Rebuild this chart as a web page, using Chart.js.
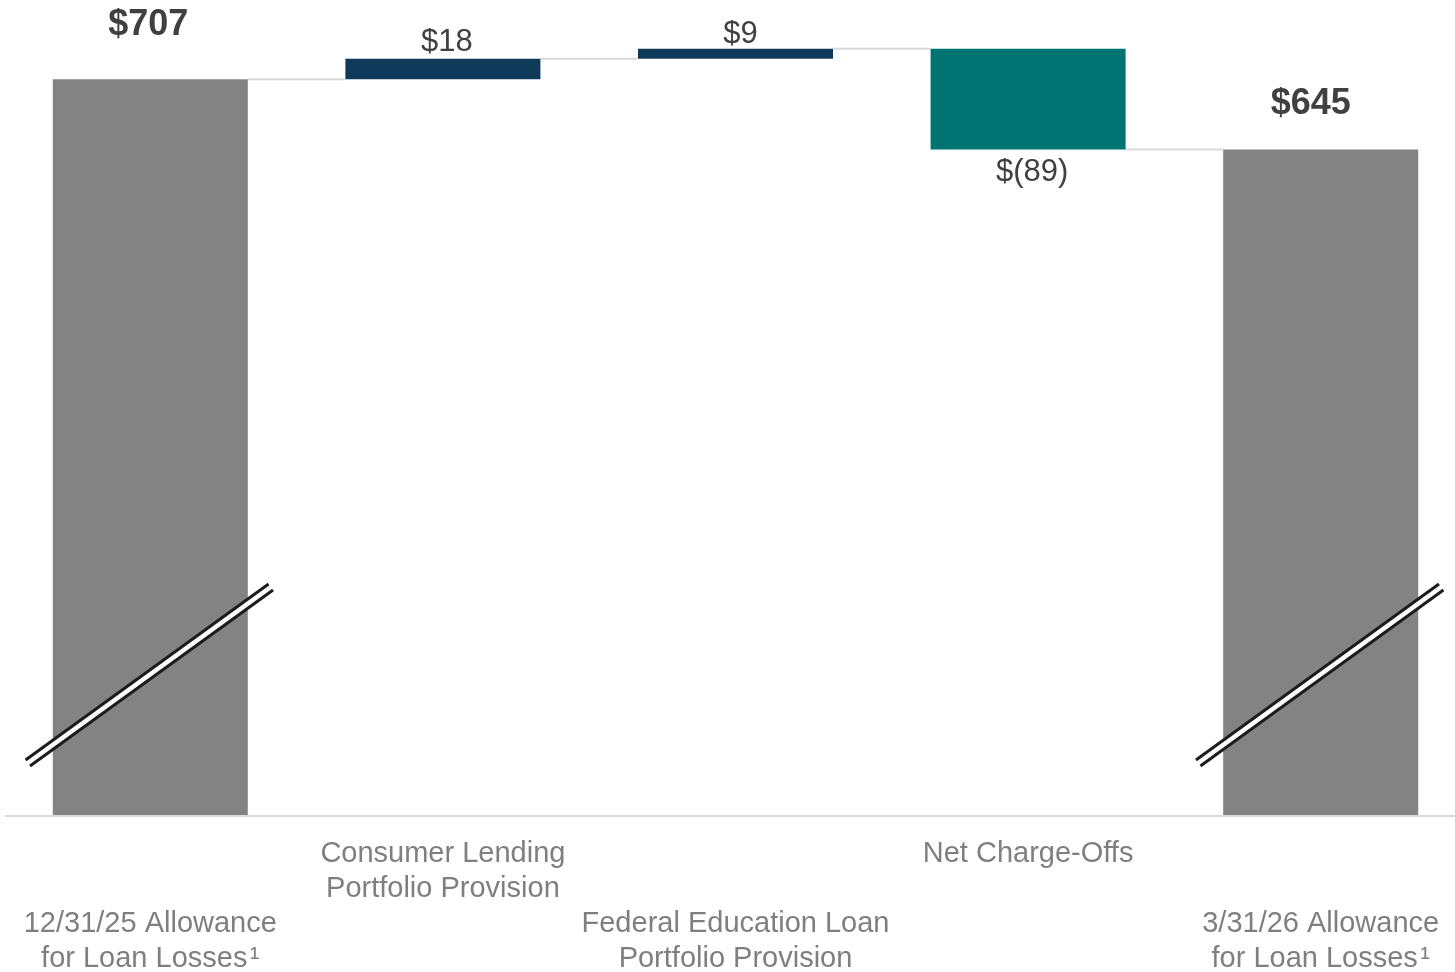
<!DOCTYPE html>
<html>
<head>
<meta charset="utf-8">
<title>Allowance for Loan Losses</title>
<script src="https://cdn.jsdelivr.net/npm/chart.js"></script>
<style>
    html, body { margin: 0; padding: 0; background: #fff; overflow: hidden; }
    .chart-wrap { position: relative; width: 1467px; height: 972px; }
</style>
</head>
<body>
<div class="chart-wrap"><canvas id="waterfall"></canvas></div>
<script>
    "use strict";

    // Waterfall data ($ millions)
    var categories = [
        ["", "", "12/31/25 Allowance", "for Loan Losses\u200A\u00B9"],
        ["Consumer Lending", "Portfolio Provision"],
        ["", "", "Federal Education Loan", "Portfolio Provision"],
        ["Net Charge-Offs"],
        ["", "", "3/31/26 Allowance", "for Loan Losses\u200A\u00B9"]
    ];
    var values = [707, 18, 9, -89, 645];
    var isTotal = [true, false, false, false, true];

    // y axis is broken, so it starts well above zero
    var yMin = 57;
    var yMax = 777;

    var colorTotal = "#838383";
    var colorUp = "#0f3a5a";
    var colorDown = "#007473";

    // Floating bar ranges built from the running total
    var ranges = [];
    var colors = [];
    var running = 0;
    values.forEach(function (v, i) {
        if (isTotal[i]) {
            ranges.push([yMin, v]);
            colors.push(colorTotal);
            running = v;
        } else {
            ranges.push([running, running + v]);
            colors.push(v >= 0 ? colorUp : colorDown);
            running += v;
        }
    });

    function money(v) {
        return v < 0 ? "$(" + Math.abs(v) + ")" : "$" + v;
    }

    // Baseline and connector lines between bars
    var connectors = {
        id: "connectors",
        beforeDatasetsDraw: function (chart) {
            var ctx = chart.ctx;
            var area = chart.chartArea;
            var y = chart.scales.y;
            var bars = chart.getDatasetMeta(0).data;
            ctx.save();
            ctx.strokeStyle = "#d9d9d9";
            ctx.lineWidth = 2;
            ctx.beginPath();
            ctx.moveTo(area.left + 1, area.bottom + 1);
            ctx.lineTo(area.right, area.bottom + 1);
            ctx.stroke();
            for (var i = 0; i < bars.length - 1; i++) {
                var level = y.getPixelForValue(ranges[i][1]);
                var a = bars[i], b = bars[i + 1];
                ctx.beginPath();
                ctx.moveTo(a.x + a.width / 2, level);
                ctx.lineTo(b.x - b.width / 2, level);
                ctx.stroke();
            }
            ctx.restore();
        }
    };

    // Axis-break marks on the total bars, then the value labels
    var labelOffsets = [54, 16, 14, 23, 45];
    var labelShiftX = [-2, 4, 5, 4, -10];
    var decorations = {
        id: "decorations",
        afterDatasetsDraw: function (chart) {
            var ctx = chart.ctx;
            var area = chart.chartArea;
            var bars = chart.getDatasetMeta(0).data;
            ctx.save();
            bars.forEach(function (bar, i) {
                if (!isTotal[i]) return;
                var left = bar.x - bar.width / 2;
                var right = bar.x + bar.width / 2;
                var x1 = left - 25, y1 = area.bottom - 52;
                var x2 = right + 23, y2 = area.bottom - 228;
                var len = Math.hypot(x2 - x1, y2 - y1);
                var nx = -(y2 - y1) / len * 3.8, ny = (x2 - x1) / len * 3.8;
                ctx.lineCap = "butt";
                ctx.strokeStyle = "#ffffff";
                ctx.lineWidth = 6;
                ctx.beginPath();
                ctx.moveTo(x1, y1);
                ctx.lineTo(x2, y2);
                ctx.stroke();
                ctx.strokeStyle = "#1c1c1c";
                ctx.lineWidth = 3;
                [-1, 1].forEach(function (s) {
                    ctx.beginPath();
                    ctx.moveTo(x1 + nx * s, y1 + ny * s);
                    ctx.lineTo(x2 + nx * s, y2 + ny * s);
                    ctx.stroke();
                });
            });

            ctx.fillStyle = "#404040";
            ctx.textAlign = "center";
            ctx.textBaseline = "middle";
            bars.forEach(function (bar, i) {
                var top = Math.min(bar.y, bar.base);
                var bottom = Math.max(bar.y, bar.base);
                var v = values[i];
                ctx.font = isTotal[i] ? "bold 36px 'Liberation Sans', Arial, sans-serif"
                                      : "31px 'Liberation Sans', Arial, sans-serif";
                var ty = v < 0 ? bottom + labelOffsets[i] : top - labelOffsets[i];
                ctx.fillText(money(v), bar.x + labelShiftX[i], ty);
            });
            ctx.restore();
        }
    };

    var ctx = document.getElementById("waterfall").getContext("2d");
    var waterfallChart = new Chart(ctx, {
        type: "bar",
        data: {
            labels: categories,
            datasets: [{
                data: ranges,
                backgroundColor: colors,
                borderWidth: 0,
                barPercentage: 0.6665,
                categoryPercentage: 1
            }]
        },
        options: {
            responsive: true,
            maintainAspectRatio: false,
            animation: false,
            layout: { padding: { left: 4, right: 0, top: 0, bottom: 0 } },
            plugins: {
                legend: { display: false },
                tooltip: { enabled: false }
            },
            scales: {
                x: {
                    grid: { display: false, drawTicks: false },
                    border: { display: false },
                    ticks: {
                        color: "#7f7f7f",
                        padding: 21.5,
                        maxRotation: 0,
                        autoSkip: false,
                        font: { family: "'Liberation Sans', Arial, sans-serif", size: 29, lineHeight: "35px" }
                    },
                    afterFit: function (axis) { axis.height = 157; }
                },
                y: {
                    display: false,
                    min: yMin,
                    max: yMax
                }
            }
        },
        plugins: [connectors, decorations]
    });
</script>
</body>
</html>
